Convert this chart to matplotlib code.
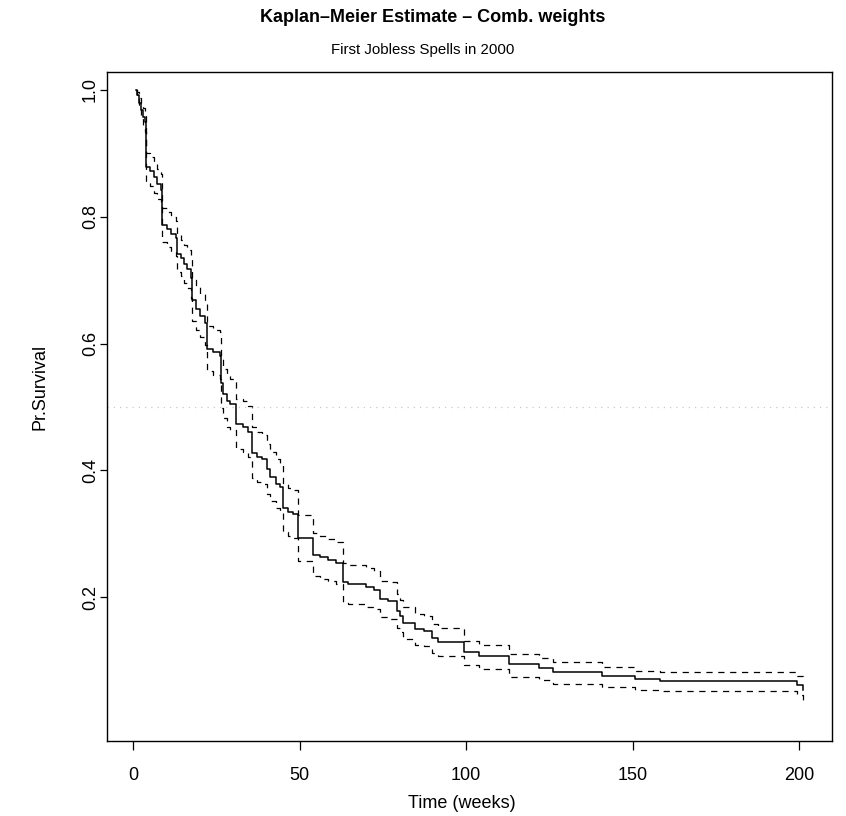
import matplotlib
matplotlib.use("Agg")
import matplotlib.pyplot as plt

plt.rcParams['font.family'] = ['Liberation Sans', 'DejaVu Sans']

# Kaplan-Meier step data (time in weeks, survival after the step)
times = [1.0, 1.3, 1.9, 2.3, 3.0, 3.6, 3.9, 5.0, 6.2, 7.3, 8.4, 8.6, 10.1, 11.5, 12.9,
         13.3, 14.3, 15.3, 16.3, 17.3, 17.6, 18.9, 20.1, 21.6, 22.3, 24.0, 26.1, 26.3,
         27.1, 28.1, 29.0, 30.9, 33.1, 34.5, 35.6, 37.3, 38.6, 40.2, 41.1, 42.9, 44.0,
         45.0, 46.6, 48.0, 49.6, 54.0, 56.2, 58.6, 61.0, 63.0, 64.7, 70.0, 72.5, 74.2,
         76.5, 79.4, 80.3, 81.2, 84.7, 87.5, 89.7, 91.7, 99.4, 104.0, 112.9, 122.0,
         126.2, 140.7, 150.8, 158.3, 199.3, 201.3]
surv = [1.000, 0.992, 0.980, 0.968, 0.958, 0.950, 0.879,
        0.872, 0.862, 0.852, 0.842, 0.787,
        0.780, 0.772, 0.766, 0.742, 0.735,
        0.726, 0.718, 0.703, 0.668, 0.655,
        0.644, 0.632, 0.592, 0.586, 0.581,
        0.537, 0.521, 0.509, 0.504, 0.473,
        0.469, 0.461, 0.428, 0.421, 0.417,
        0.402, 0.390, 0.379, 0.373, 0.340,
        0.334, 0.331, 0.293, 0.267, 0.263,
        0.258, 0.253, 0.223, 0.220, 0.215,
        0.211, 0.197, 0.194, 0.178, 0.170,
        0.159, 0.149, 0.146, 0.135, 0.1295,
        0.114, 0.107, 0.094, 0.0885, 0.082,
        0.076, 0.0706, 0.068, 0.061, 0.053]
upper = [1.000, 0.997, 0.988, 0.980, 0.972, 0.966, 0.901,
         0.895, 0.886, 0.876, 0.867, 0.814,
         0.807, 0.800, 0.794, 0.771, 0.764,
         0.756, 0.748, 0.734, 0.701, 0.689,
         0.678, 0.667, 0.628, 0.622, 0.618,
         0.575, 0.560, 0.549, 0.544, 0.513,
         0.509, 0.501, 0.468, 0.461, 0.456,
         0.441, 0.429, 0.417, 0.411, 0.378,
         0.372, 0.369, 0.330, 0.301, 0.297,
         0.291, 0.286, 0.254, 0.251, 0.245,
         0.241, 0.226, 0.223, 0.205, 0.196,
         0.184, 0.173, 0.170, 0.157, 0.151,
         0.131, 0.125, 0.110, 0.104, 0.097,
         0.090, 0.084, 0.082, 0.075, 0.067]
lower = [1.000, 0.986, 0.971, 0.956, 0.943, 0.934, 0.857,
         0.849, 0.838, 0.828, 0.817, 0.760,
         0.753, 0.744, 0.738, 0.713, 0.706,
         0.696, 0.688, 0.672, 0.635, 0.621,
         0.610, 0.597, 0.556, 0.550, 0.544,
         0.499, 0.482, 0.469, 0.464, 0.433,
         0.429, 0.421, 0.388, 0.381, 0.378,
         0.363, 0.351, 0.341, 0.335, 0.302,
         0.296, 0.293, 0.257, 0.233, 0.229,
         0.225, 0.220, 0.192, 0.189, 0.185,
         0.181, 0.168, 0.165, 0.151, 0.144,
         0.134, 0.125, 0.122, 0.112, 0.107,
         0.092, 0.086, 0.074, 0.069, 0.063,
         0.058, 0.053, 0.051, 0.045, 0.038]

x_ticks = [0, 50, 100, 150, 200]
y_ticks = [0.2, 0.4, 0.6, 0.8, 1.0]

W, H = 846, 816
PT = 72 / 100  # points per pixel at dpi 100
fig = plt.figure(figsize=(W / 100, H / 100), dpi=100)
left, right, top, bottom = 107, 832, 72, 741
ax = fig.add_axes([left / W, 1 - bottom / H, (right - left) / W, (bottom - top) / H])

dash = (0, (5, 4.5))
ax.step(times, surv, where='post', color='black', lw=1.1)
ax.step(times, upper, where='post', color='black', lw=0.9, linestyle=dash)
ax.step(times, lower, where='post', color='black', lw=0.9, linestyle=dash)
ax.axhline(0.5, color='#c8c8c8', lw=0.9, linestyle=(0, (1, 4)))

# x: 0 -> px 133, 200 -> px 799 ; y: 1.0 -> px 90, 0.2 -> px 597
ax.set_xlim((left - 133) / 3.33, (right - 133) / 3.33)
ax.set_ylim(1 - (bottom - 90) / 633.75, 1 + (90 - top) / 633.75)
ax.set_xticks(x_ticks)
ax.set_xticklabels([str(v) for v in x_ticks])
ax.set_yticks(y_ticks)
ax.set_yticklabels([f"{v:.1f}" for v in y_ticks], rotation=90, va='center')
ax.tick_params(axis='x', direction='out', length=9 * PT, width=0.9, labelsize=13,
               pad=17 * PT, colors='black')
ax.tick_params(axis='y', direction='out', length=7 * PT, width=0.9, labelsize=13,
               pad=1 * PT, colors='black')
for s in ax.spines.values():
    s.set_linewidth(1.0)
    s.set_color('black')

fig.text(462 / W, 1 - 803 / H, "Time (weeks)", ha='center', va='center', fontsize=13)
fig.text(40 / W, 1 - 387 / H, "Pr.Survival", ha='center', va='center', fontsize=13,
         rotation=90)
fig.text(433 / W, 1 - 18 / H, "Kaplan\u2013Meier Estimate \u2013 Comb. weights",
         ha='center', va='center', fontsize=13, fontweight='bold')
fig.text(423 / W, 1 - 50 / H, "First Jobless Spells in 2000",
         ha='center', va='center', fontsize=10.8)

fig.savefig("out.png", dpi=100)
